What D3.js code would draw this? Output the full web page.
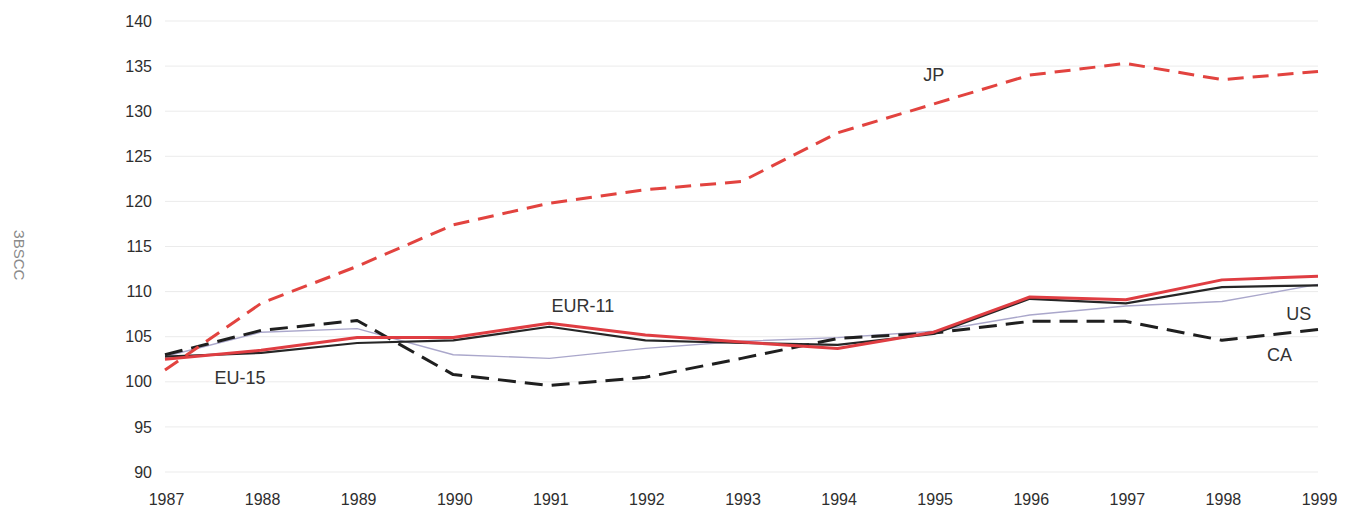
<!DOCTYPE html>
<html>
<head>
<meta charset="utf-8">
<script src="https://cdn.jsdelivr.net/npm/d3@7"></script>
<style>
  html, body { margin: 0; padding: 0; background: #fff; }
  svg { display: block; font-family: "Liberation Sans", Arial, sans-serif; }
</style>
</head>
<body>
<svg id="chart" width="1353" height="520"></svg>
<script>
const years = [1987, 1988, 1989, 1990, 1991, 1992, 1993, 1994, 1995, 1996, 1997, 1998, 1999];
const yTicks = [90, 95, 100, 105, 110, 115, 120, 125, 130, 135, 140];
const yAxisTitle = "ЗВSCC";

const jp    = [101.3, 108.7, 112.8, 117.4, 119.8, 121.3, 122.2, 127.6, 130.8, 134.0, 135.3, 133.5, 134.4];
const ca    = [103.0, 105.7, 106.8, 100.8, 99.6, 100.5, 102.6, 104.8, 105.4, 106.7, 106.7, 104.6, 105.8];
const eur11 = [102.5, 103.5, 104.9, 104.9, 106.5, 105.2, 104.4, 103.7, 105.5, 109.4, 109.1, 111.3, 111.7];
const eu15  = [102.8, 103.2, 104.3, 104.6, 106.1, 104.6, 104.3, 104.1, 105.3, 109.2, 108.7, 110.5, 110.7];
const us    = [102.8, 105.5, 105.9, 103.0, 102.6, 103.7, 104.5, 104.9, 105.6, 107.4, 108.4, 108.9, 110.8];

const labelNames = ["JP", "EUR-11", "EU-15", "US", "CA"];
const labelYears = [1995.0, 1991.35, 1987.78, 1998.8, 1998.6];
const labelVals  = [134.0, 108.4, 100.4, 107.6, 103.0];

const svg = d3.select("#chart");
const x = d3.scaleLinear().domain([1987, 1999]).range([165, 1318]);
const y = d3.scaleLinear().domain([90, 140]).range([472, 21]);

// gridlines
svg.append("g").selectAll("line").data(yTicks).join("line")
  .attr("x1", x(1987)).attr("x2", x(1999))
  .attr("y1", d => y(d)).attr("y2", d => y(d))
  .attr("stroke", "#ebebeb").attr("stroke-width", 1);

// y axis
const yAxis = d3.axisLeft(y).tickValues(yTicks).tickSize(0).tickPadding(0).tickFormat(d3.format("d"));
const gy = svg.append("g").attr("transform", "translate(152,0)").call(yAxis);
gy.select(".domain").remove();
gy.selectAll("text").attr("font-size", 16).attr("fill", "#2e2e2e")
  .attr("font-family", "'Liberation Sans', Arial, sans-serif");

// x axis
const xAxis = d3.axisBottom(x).tickValues(years).tickSize(0).tickPadding(0).tickFormat(d3.format("d"));
const gx = svg.append("g").attr("transform", "translate(1,494)").call(xAxis);
gx.select(".domain").remove();
gx.selectAll("text").attr("font-size", 16).attr("fill", "#2e2e2e")
  .attr("font-family", "'Liberation Sans', Arial, sans-serif");

// y title
svg.append("text")
  .attr("transform", "translate(14,255) rotate(90)")
  .attr("text-anchor", "middle")
  .attr("font-size", 15).attr("fill", "#8a8a8a")
  .text(yAxisTitle);

const line = d3.line().x((d, i) => x(years[i])).y(d => y(d)).curve(d3.curveLinear);

const series = [
  { values: us,    color: "#aaa7cb", width: 1.4, dash: null },
  { values: ca,    color: "#1f1f1f", width: 3, dash: "18,9" },
  { values: eu15,  color: "#262626", width: 2.2, dash: null },
  { values: eur11, color: "#df3d42", width: 3, dash: null },
  { values: jp,    color: "#e2433f", width: 3, dash: "16,9" }
];

svg.append("g").selectAll("path").data(series).join("path")
  .attr("d", d => line(d.values))
  .attr("fill", "none")
  .attr("stroke", d => d.color)
  .attr("stroke-width", d => d.width)
  .attr("stroke-dasharray", d => d.dash)
  .attr("stroke-linejoin", "round");

// labels
svg.append("g").selectAll("text").data(labelNames).join("text")
  .attr("x", (d, i) => x(labelYears[i]))
  .attr("y", (d, i) => y(labelVals[i]))
  .attr("dy", "0.35em")
  .attr("text-anchor", "middle")
  .attr("font-size", 18).attr("fill", "#333")
  .text(d => d);
</script>
</body>
</html>
